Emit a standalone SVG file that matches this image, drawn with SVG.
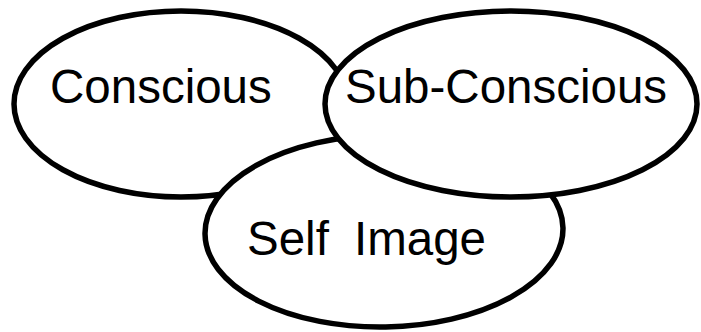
<svg xmlns="http://www.w3.org/2000/svg" width="701" height="332" viewBox="0 0 701 332">
<style>
.e{fill:#fff;stroke:#000;stroke-width:5.5}
.t{font-family:"Liberation Sans",Arial,sans-serif;font-size:47.5px;fill:#000}
</style>
<rect width="701" height="332" fill="#fff"/>
<g id="conscious">
<ellipse class="e" cx="181" cy="104" rx="167" ry="93"/>
<text class="t" x="50" y="103">Conscious</text>
</g>
<g id="self-image">
<ellipse class="e" cx="384" cy="231" rx="179" ry="96" transform="rotate(-1 384 231)"/>
<text class="t" y="255"><tspan x="247">Self</tspan><tspan x="354">Image</tspan></text>
</g>
<g id="sub-conscious">
<ellipse class="e" cx="511" cy="104" rx="186" ry="93"/>
<text class="t" x="345" y="103">Sub-Conscious</text>
</g>
<g id="connectors"></g>
</svg>
